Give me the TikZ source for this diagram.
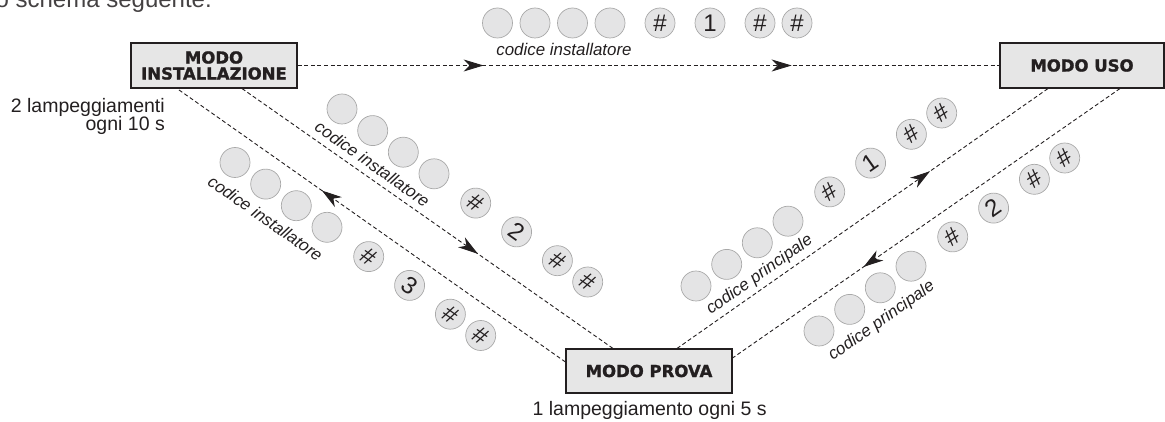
\documentclass[tikz,border=0pt]{standalone}
\usepackage{fontspec}
\setmainfont{Liberation Sans}
\newfontfamily\boxfont{DejaVu Sans}[BoldFeatures={FakeBold=1.5}]
\usetikzlibrary{arrows.meta,decorations.markings,calc}
\definecolor{boxgray}{HTML}{E6E6E6}
\definecolor{keygray}{HTML}{E4E4E5}
\definecolor{keyline}{HTML}{A9A9A9}
\definecolor{ink}{HTML}{231F20}
\tikzset{
  flowtip/.tip={Stealth[length=20pt, width=12pt, inset=6pt]},
  modebox/.style={draw=ink, line width=1.1pt, fill=boxgray, minimum width=166pt, minimum height=45pt, inner sep=0pt, font=\boxfont\bfseries\fontsize{16.5}{16}\selectfont, text=ink, align=center},
  key/.style={circle, draw=keyline, line width=0.7pt, fill=keygray, minimum size=30pt, inner sep=0pt, font=\fontsize{24}{24}\selectfont, text=ink},
  flow/.style={draw=ink, line width=0.9pt, dash pattern=on 4pt off 2.6pt},
  lbl/.style={font=\itshape\fontsize{16.9}{17}\selectfont, text=ink, inner sep=0pt},
  note/.style={font=\fontsize{19.5}{21}\selectfont, text=ink, inner sep=0pt},
  fwd/.style={postaction={decorate, decoration={markings, mark=at position #1 with {\arrow{flowtip}}}}},
}
\begin{document}
\begin{tikzpicture}[x=1pt, y=-1pt]
\useasboundingbox (0,0) rectangle (1165,422);
% intro text (cut at top)
\node[font=\fontsize{24}{24}\selectfont, text=ink!85, anchor=base east, inner sep=0pt] (intro) at (212,8) {o schema seguente.};
% mode boxes
\node[modebox] (inst) at (214,65.5) {MODO\\INSTALLAZIONE};
\node[modebox, minimum width=164pt] (uso) at (1082,65.5) {MODO USO};
\node[modebox, minimum height=44pt] (prova) at (649,371) {MODO PROVA};
% notes
\node[note, anchor=base east] (n1) at (165,112.5) {2 lampeggiamenti};
\node[note, anchor=base east] (n2) at (165,130.7) {ogni 10 s};
\node[note, anchor=base] (n3) at (649.7,415) {1 lampeggiamento ogni 5 s};
% connector end points
\coordinate (a0) at ([xshift=28pt]inst.south);
\coordinate (a1) at ([xshift=-36pt]prova.north);
\coordinate (b0) at ([xshift=-37pt]inst.south);
\coordinate (b1) at ([yshift=9pt]prova.west);
\coordinate (c0) at ([xshift=28pt]prova.north);
\coordinate (c1) at ([xshift=-34pt]uso.south);
\coordinate (d0) at ([yshift=13pt]prova.east);
\coordinate (d1) at ([xshift=38pt]uso.south);
% connectors
\draw[flow, fwd=0.265, fwd=0.704] (inst.east) -- (uso.west);
\draw[flow, fwd=0.636] (a0) -- (a1);
\draw[flow, fwd=0.627] (b1) -- (b0);
\draw[flow, fwd=0.682] (c0) -- (c1);
\draw[flow, fwd=0.662] (d1) -- (d0);
% top sequence: installer code, #, 1, #, #
\node[key] (t1) at (497.5,23) {};
\node[key] (t2) at (535,23) {};
\node[key] (t3) at (572.5,23) {};
\node[key] (t4) at (610,23) {};
\node[key] (t5) at (660,23) {\#};
\node[key] (t6) at (710,23) {1};
\node[key] (t7) at (760,23) {\#};
\node[key] (t8) at (797,23) {\#};
\node[lbl, anchor=base] (tl) at (564,55.5) {codice installatore};
% left upper sequence: installer code, #, 2, #, #
\begin{scope}[every node/.append style={rotate=-35.15}]
\node[key] (p1) at (342,109) {};
\node[key] (p2) at (372.7,130.6) {};
\node[key] (p3) at (403.3,152.2) {};
\node[key] (p4) at (434.0,173.8) {};
\node[key] (p5) at (475.7,203.1) {\#};
\node[key] (p6) at (516.6,231.9) {2};
\node[key] (p7) at (557.4,260.7) {\#};
\node[key] (p8) at (587.7,282.0) {\#};
\node[lbl] (pl) at (372.5,164) {codice installatore};
% left lower sequence: installer code, #, 3, #, #
\node[key] (q1) at (235,162.5) {};
\node[key] (q2) at (265.7,184.1) {};
\node[key] (q3) at (296.3,205.7) {};
\node[key] (q4) at (327.0,227.3) {};
\node[key] (q5) at (368.7,256.6) {\#};
\node[key] (q6) at (409.6,285.4) {3};
\node[key] (q7) at (450.4,314.2) {\#};
\node[key] (q8) at (480.7,335.5) {\#};
\node[lbl] (ql) at (265.5,218.2) {codice installatore};
\end{scope}
\begin{scope}[every node/.append style={rotate=35.15}]
% right upper sequence: main code, #, 1, #, #
\node[key] (r1) at (696,286) {};
\node[key] (r2) at (726.7,264.4) {};
\node[key] (r3) at (757.3,242.8) {};
\node[key] (r4) at (788.0,221.2) {};
\node[key] (r5) at (829.7,191.9) {\#};
\node[key] (r6) at (870.6,163.1) {1};
\node[key] (r7) at (911.4,134.3) {\#};
\node[key] (r8) at (941.7,113.0) {\#};
\node[lbl] (rl) at (759.7,275.1) {codice principale};
% right lower sequence: main code, #, 2, #, #
\node[key] (s1) at (819,331) {};
\node[key] (s2) at (849.7,309.4) {};
\node[key] (s3) at (880.3,287.8) {};
\node[key] (s4) at (911.0,266.2) {};
\node[key] (s5) at (952.7,236.9) {\#};
\node[key] (s6) at (993.6,208.1) {2};
\node[key] (s7) at (1034.4,179.3) {\#};
\node[key] (s8) at (1064.7,158.0) {\#};
\node[lbl] (sl) at (881.7,321.1) {codice principale};
\end{scope}
\end{tikzpicture}
\end{document}
